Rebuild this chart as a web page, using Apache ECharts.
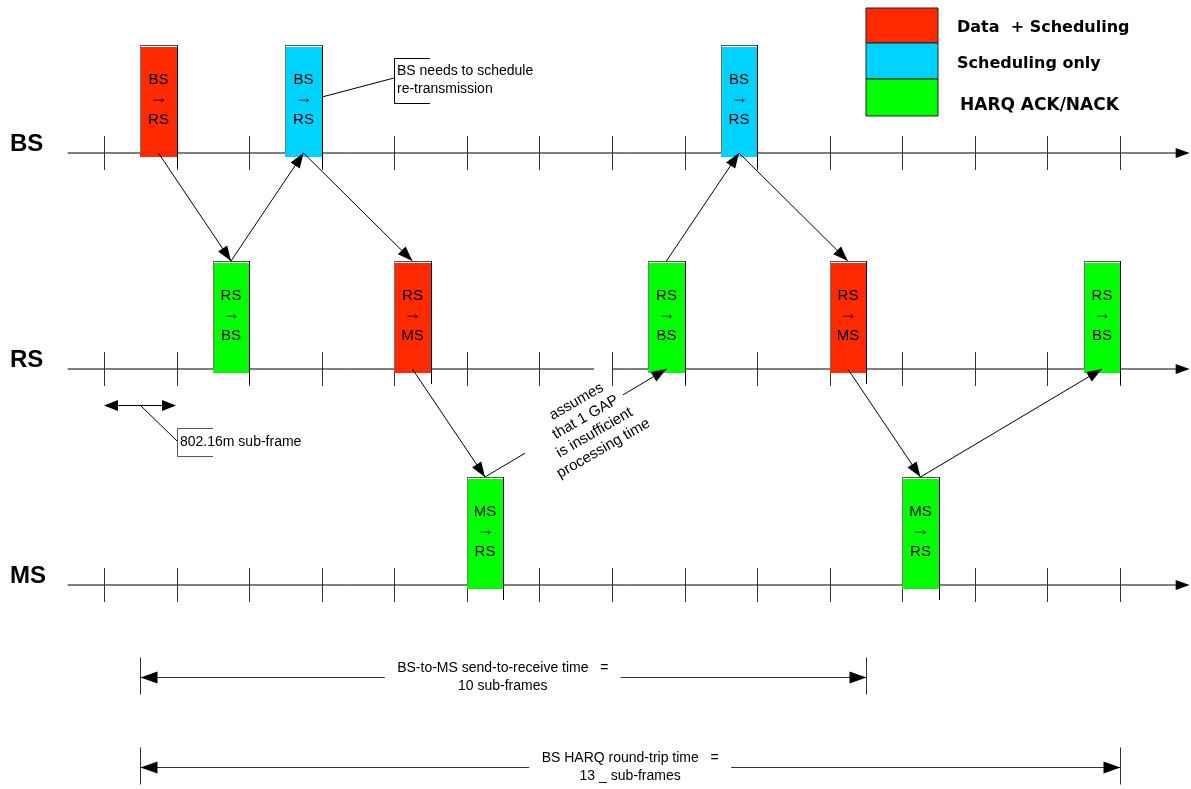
<!DOCTYPE html>
<html>
<head>
<meta charset="utf-8">
<script src="https://cdn.jsdelivr.net/npm/echarts@6/dist/echarts.min.js"></script>
<style>html,body{margin:0;padding:0;background:#fff;}#chart{width:1191px;height:789px;}</style>
</head>
<body>
<div id="chart"></div>
<script>
// ---- data ----
const subframeTicks = [0,1,2,3,4,5,6,7,8,9,10,11,12,13,14];
const laneNames = ['MS','RS','BS'];
const barStart = [0.5, 1.5, 2.5, 4, 5, 7.5, 8.5, 10, 11, 13.5];
const barLane  = ['BS','RS','BS','RS','MS','RS','BS','RS','MS','RS'];
const barDest  = ['RS','BS','RS','MS','RS','BS','RS','MS','RS','BS'];
const barKind  = ['data','harq','sched','data','harq','harq','sched','data','harq','harq'];
const msgFrom = [0,1,2,3,4,5,6,7,8];
const msgTo   = [1,2,3,4,5,6,7,8,9];
const dimStart = [0.5, 0.5];
const dimEnd   = [10.5, 14];
const dimLabelTop = ['BS-to-MS send-to-receive time   =', 'BS HARQ round-trip time   ='];
const dimLabelBottom = ['10 sub-frames', '13 _ sub-frames'];
const legendKinds = ['data','sched','harq'];
const legendLabels = ['Data  + Scheduling', 'Scheduling only', 'HARQ ACK/NACK'];

// ---- styles / layout ----
const COLORS = {data:'#FF2A00', sched:'#00D2FF', harq:'#00FF00'};
const BAR_W = 0.5, BAR_H = 0.5;
const FONT = '"Liberation Sans", Arial, sans-serif';
const DIM_LEVEL = [-0.426, -0.843];
const DIM_GAP = [[3.87, 7.12], [5.86, 8.64]];
const MSG_GAP = {4: [0.22, 0.76]};

function arrowHead(sx, sy, ex, ey, L, w) {
  const dx = ex - sx, dy = ey - sy, len = Math.sqrt(dx*dx + dy*dy);
  const ux = dx/len, uy = dy/len;
  const bx = ex - ux*L, by = ey - uy*L;
  return {type:'polygon', shape:{points:[[ex,ey],[bx - uy*w, by + ux*w],[bx + uy*w, by - ux*w]]}, style:{fill:'#000'}};
}
function line(x1,y1,x2,y2,stroke,lw){
  return {type:'line', shape:{x1,y1,x2,y2}, style:{stroke: stroke||'#000', lineWidth: lw||1}};
}

const laneSeries = {
  type:'custom', clip:false, silent:true,
  data: laneNames.map((n,i)=>[0,i]),
  renderItem(params, api){
    const lane = api.value(1);
    const a = api.coord([-0.5, lane]);
    const b = api.coord([14.96, lane]);
    const ch = [line(a[0], a[1], b[0]-8, b[1], '#000', 1), arrowHead(a[0], a[1], b[0], b[1], 14, 5)];
    subframeTicks.forEach(t => {
      const p = api.coord([t, lane]);
      ch.push(line(Math.round(p[0])+0.5, p[1]-17, Math.round(p[0])+0.5, p[1]+17, '#333', 1));
    });
    ch.push({type:'text', style:{text: laneNames[lane], x: 10, y: a[1]-9, font:'bold 24px ' + FONT, fill:'#000', align:'left', verticalAlign:'middle'}});
    return {type:'group', children: ch};
  }
};

const barSeries = {
  type:'custom', clip:false, silent:true, z:3,
  data: barStart.map((s,i)=>[s, laneNames.indexOf(barLane[i]), i]),
  renderItem(params, api){
    const i = api.value(2);
    const p0 = api.coord([api.value(0), api.value(1)]);
    const p1 = api.coord([api.value(0)+BAR_W, api.value(1)+BAR_H]);
    const x0 = Math.round(p0[0]), x1 = Math.round(p1[0]);
    const base = p0[1], top = p1[1];
    const cx = (x0 + x1)/2;
    return {type:'group', children:[
      {type:'rect', shape:{x:x0, y:top+2, width:x1-x0, height:base-top+2}, style:{fill: COLORS[barKind[i]]}},
      line(x0+0.5, top, x0+0.5, base, '#777', 1),
      line(x0, top+0.5, x1, top+0.5, '#555', 1),
      line(x1+0.5, top, x1+0.5, base+15, '#000', 1),
      {type:'text', style:{text: barLane[i], x: cx, y: top+35, font:'15px ' + FONT, fill:'#000', align:'center', verticalAlign:'middle'}},
      {type:'text', style:{text: '\u2192', x: cx, y: top+53, font:'18px ' + FONT, fill:'#000', align:'center', verticalAlign:'middle'}},
      {type:'text', style:{text: barDest[i], x: cx, y: top+75, font:'15px ' + FONT, fill:'#000', align:'center', verticalAlign:'middle'}}
    ]};
  }
};

function msgEnds(api, k){
  const f = msgFrom[k], t = msgTo[k];
  const lf = laneNames.indexOf(barLane[f]), lt = laneNames.indexOf(barLane[t]);
  const xf = barStart[f] + BAR_W/2, xt = barStart[t] + BAR_W/2;
  let s, e;
  if (lt < lf) { s = api.coord([xf, lf]); e = api.coord([xt, lt + BAR_H]); }
  else { s = api.coord([xf, lf + BAR_H]); e = api.coord([xt, lt]); }
  return [s, e];
}

const msgSeries = {
  type:'custom', clip:false, silent:true, z:4,
  data: msgFrom.map((f,k)=>[barStart[f], k]),
  renderItem(params, api){
    const k = api.value(1);
    const [s, e] = msgEnds(api, k);
    const ch = [];
    const g = MSG_GAP[k];
    if (g) {
      ch.push(line(s[0], s[1], s[0]+(e[0]-s[0])*g[0], s[1]+(e[1]-s[1])*g[0]));
      ch.push(line(s[0]+(e[0]-s[0])*g[1], s[1]+(e[1]-s[1])*g[1], e[0], e[1]));
    } else {
      ch.push(line(s[0], s[1], e[0], e[1]));
    }
    ch.push(arrowHead(s[0], s[1], e[0], e[1], 15, 5.5));
    return {type:'group', children: ch};
  }
};

const dimSeries = {
  type:'custom', clip:false, silent:true,
  data: dimStart.map((s,i)=>[s, dimEnd[i], i]),
  renderItem(params, api){
    const i = api.value(2);
    const a = api.coord([api.value(0), DIM_LEVEL[i]]);
    const b = api.coord([api.value(1), DIM_LEVEL[i]]);
    const g0 = api.coord([DIM_GAP[i][0], DIM_LEVEL[i]]);
    const g1 = api.coord([DIM_GAP[i][1], DIM_LEVEL[i]]);
    const y = Math.round(a[1]) + 0.5;
    const xa = Math.round(a[0]) + 0.5, xb = Math.round(b[0]) + 0.5;
    const cx = (g0[0] + g1[0]) / 2;
    return {type:'group', children:[
      line(xa, y-20, xa, y+17, '#333', 1),
      line(xb, y-20, xb, y+17, '#333', 1),
      line(xa, y, g0[0], y, '#333', 1),
      line(g1[0], y, xb, y, '#333', 1),
      arrowHead(g0[0], y, xa, y, 17, 6),
      arrowHead(g1[0], y, xb, y, 17, 6),
      {type:'text', style:{text: dimLabelTop[i], x: cx, y: y-9, font:'14px ' + FONT, fill:'#000', align:'center', verticalAlign:'middle'}},
      {type:'text', style:{text: dimLabelBottom[i], x: cx, y: y+9, font:'14px ' + FONT, fill:'#000', align:'center', verticalAlign:'middle'}}
    ]};
  }
};

// legend + annotations (graphic)
const graphics = [];
const legTops = [8, 43, 79], legH = [35, 36, 37];
legendKinds.forEach((k, i) => {
  graphics.push({type:'rect', shape:{x:866, y:legTops[i], width:72, height:legH[i]}, style:{fill: COLORS[k], stroke:'#222', lineWidth:1}});
  graphics.push({type:'text', style:{text: legendLabels[i], x: i === 2 ? 960 : 957, y: i === 2 ? 106 : (i === 0 ? 28 : 64),
    font: 'bold ' + (i === 2 ? 17 : 16) + 'px "DejaVu Sans", sans-serif', fill:'#000', align:'left', verticalAlign:'middle'}});
});
// "BS needs to schedule" callout
graphics.push({type:'line', shape:{x1:322, y1:97, x2:394, y2:78}, style:{stroke:'#000', lineWidth:1}});
graphics.push({type:'polyline', shape:{points:[[430,58.5],[394.5,58.5],[394.5,103.5],[430,103.5]]}, style:{stroke:'#000', lineWidth:1, fill:null}});
graphics.push({type:'text', style:{text:'BS needs to schedule', x:397, y:71, font:'14px ' + FONT, fill:'#000', align:'left', verticalAlign:'middle'}});
graphics.push({type:'text', style:{text:'re-transmission', x:397, y:89, font:'14px ' + FONT, fill:'#000', align:'left', verticalAlign:'middle'}});
// sub-frame size callout
graphics.push({type:'line', shape:{x1:116, y1:405.5, x2:165, y2:405.5}, style:{stroke:'#000', lineWidth:1}});
graphics.push({type:'polygon', shape:{points:[[104,405.5],[118,400],[118,411]]}, style:{fill:'#000'}});
graphics.push({type:'polygon', shape:{points:[[176,405.5],[162,400],[162,411]]}, style:{fill:'#000'}});
graphics.push({type:'line', shape:{x1:140, y1:405, x2:177, y2:441}, style:{stroke:'#000', lineWidth:1}});
graphics.push({type:'polyline', shape:{points:[[213,428.5],[177.5,428.5],[177.5,456.5],[213,456.5]]}, style:{stroke:'#555', lineWidth:1, fill:null}});
graphics.push({type:'text', style:{text:'802.16m sub-frame', x:180, y:442, font:'14px ' + FONT, fill:'#000', align:'left', verticalAlign:'middle'}});
// gap in RS lane where the note crosses
graphics.push({type:'rect', shape:{x:594, y:366, width:18, height:6}, style:{fill:'#fff'}, z:10});
// rotated note
graphics.push({type:'text', x:590, y:425, rotation: Math.PI/6, z:11,
  style:{text:'assumes\nthat 1 GAP\nis insufficient\nprocessing time', x:0, y:0, font:'15px ' + FONT, lineHeight:18, fill:'#000', align:'center', verticalAlign:'middle'}});

const chart = echarts.init(document.getElementById('chart'), null, {renderer:'canvas'});
chart.setOption({
  animation:false,
  backgroundColor:'#fff',
  grid:{left:104, right:71, top:153, bottom:204},
  xAxis:{type:'value', min:0, max:14, show:false},
  yAxis:{type:'value', min:0, max:2, show:false},
  series:[laneSeries, barSeries, msgSeries, dimSeries],
  graphic: graphics
});
</script>
</body>
</html>
